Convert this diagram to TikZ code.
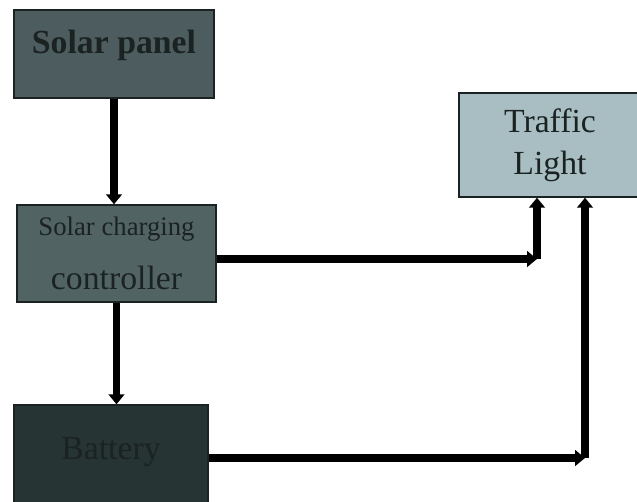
\documentclass[tikz,border=0pt]{standalone}
\usepackage{fontspec}
\setmainfont{Liberation Serif}
\usetikzlibrary{arrows.meta}

\definecolor{panelgray}{HTML}{4D5C5E}
\definecolor{ctrlgray}{HTML}{526364}
\definecolor{battgray}{HTML}{263434}
\definecolor{lightgray}{HTML}{A9BEC2}
\definecolor{inkgray}{HTML}{1A2222}

\begin{document}
\begin{tikzpicture}[x=0.025cm, y=-0.025cm,
        block/.style={draw=inkgray, line width=1pt, text=inkgray, align=center, inner sep=0pt},
        wire/.style={line width=5.5pt, draw=black, -{Triangle[length=7pt, width=11pt]}}]
        \useasboundingbox (0,0) rectangle (637,501);

        \node[block, fill=panelgray, minimum width=5cm, minimum height=2.2cm, text depth=0.6cm,
              font=\fontsize{24}{26}\selectfont\bfseries] (panel) at (114,54) {Solar panel};
        \node[block, fill=ctrlgray, minimum width=4.975cm, minimum height=2.425cm] (ctrl) at (116.5,253.5)
              {{\fontsize{19}{21}\selectfont Solar charging}\\[0.6cm]{\fontsize{24}{26}\selectfont controller}};
        \node[block, fill=battgray, minimum width=4.85cm, minimum height=2.65cm, text depth=0.5cm,
              font=\fontsize{24}{26}\selectfont] (batt) at (111,458) {Battery};
        \node[block, fill=lightgray, minimum width=4.55cm, minimum height=2.6cm,
              font=\fontsize{24}{30}\selectfont] (light) at (550,145) {Traffic\\Light};

        \coordinate (tl1) at (537,259);
        \coordinate (tl2) at (585,458);

        \draw[wire] (ctrl.east |- tl1) -- (tl1);
        \draw[wire] (panel.south) -- (panel.south |- ctrl.north);
        \draw[wire] (ctrl.south) -- (ctrl.south |- batt.north);
        \draw[wire] (tl1) -- (tl1 |- light.south);
        \draw[wire] (batt.east) -- (tl2);
        \draw[wire] (tl2) -- (tl2 |- light.south);
    \end{tikzpicture}
\end{document}
